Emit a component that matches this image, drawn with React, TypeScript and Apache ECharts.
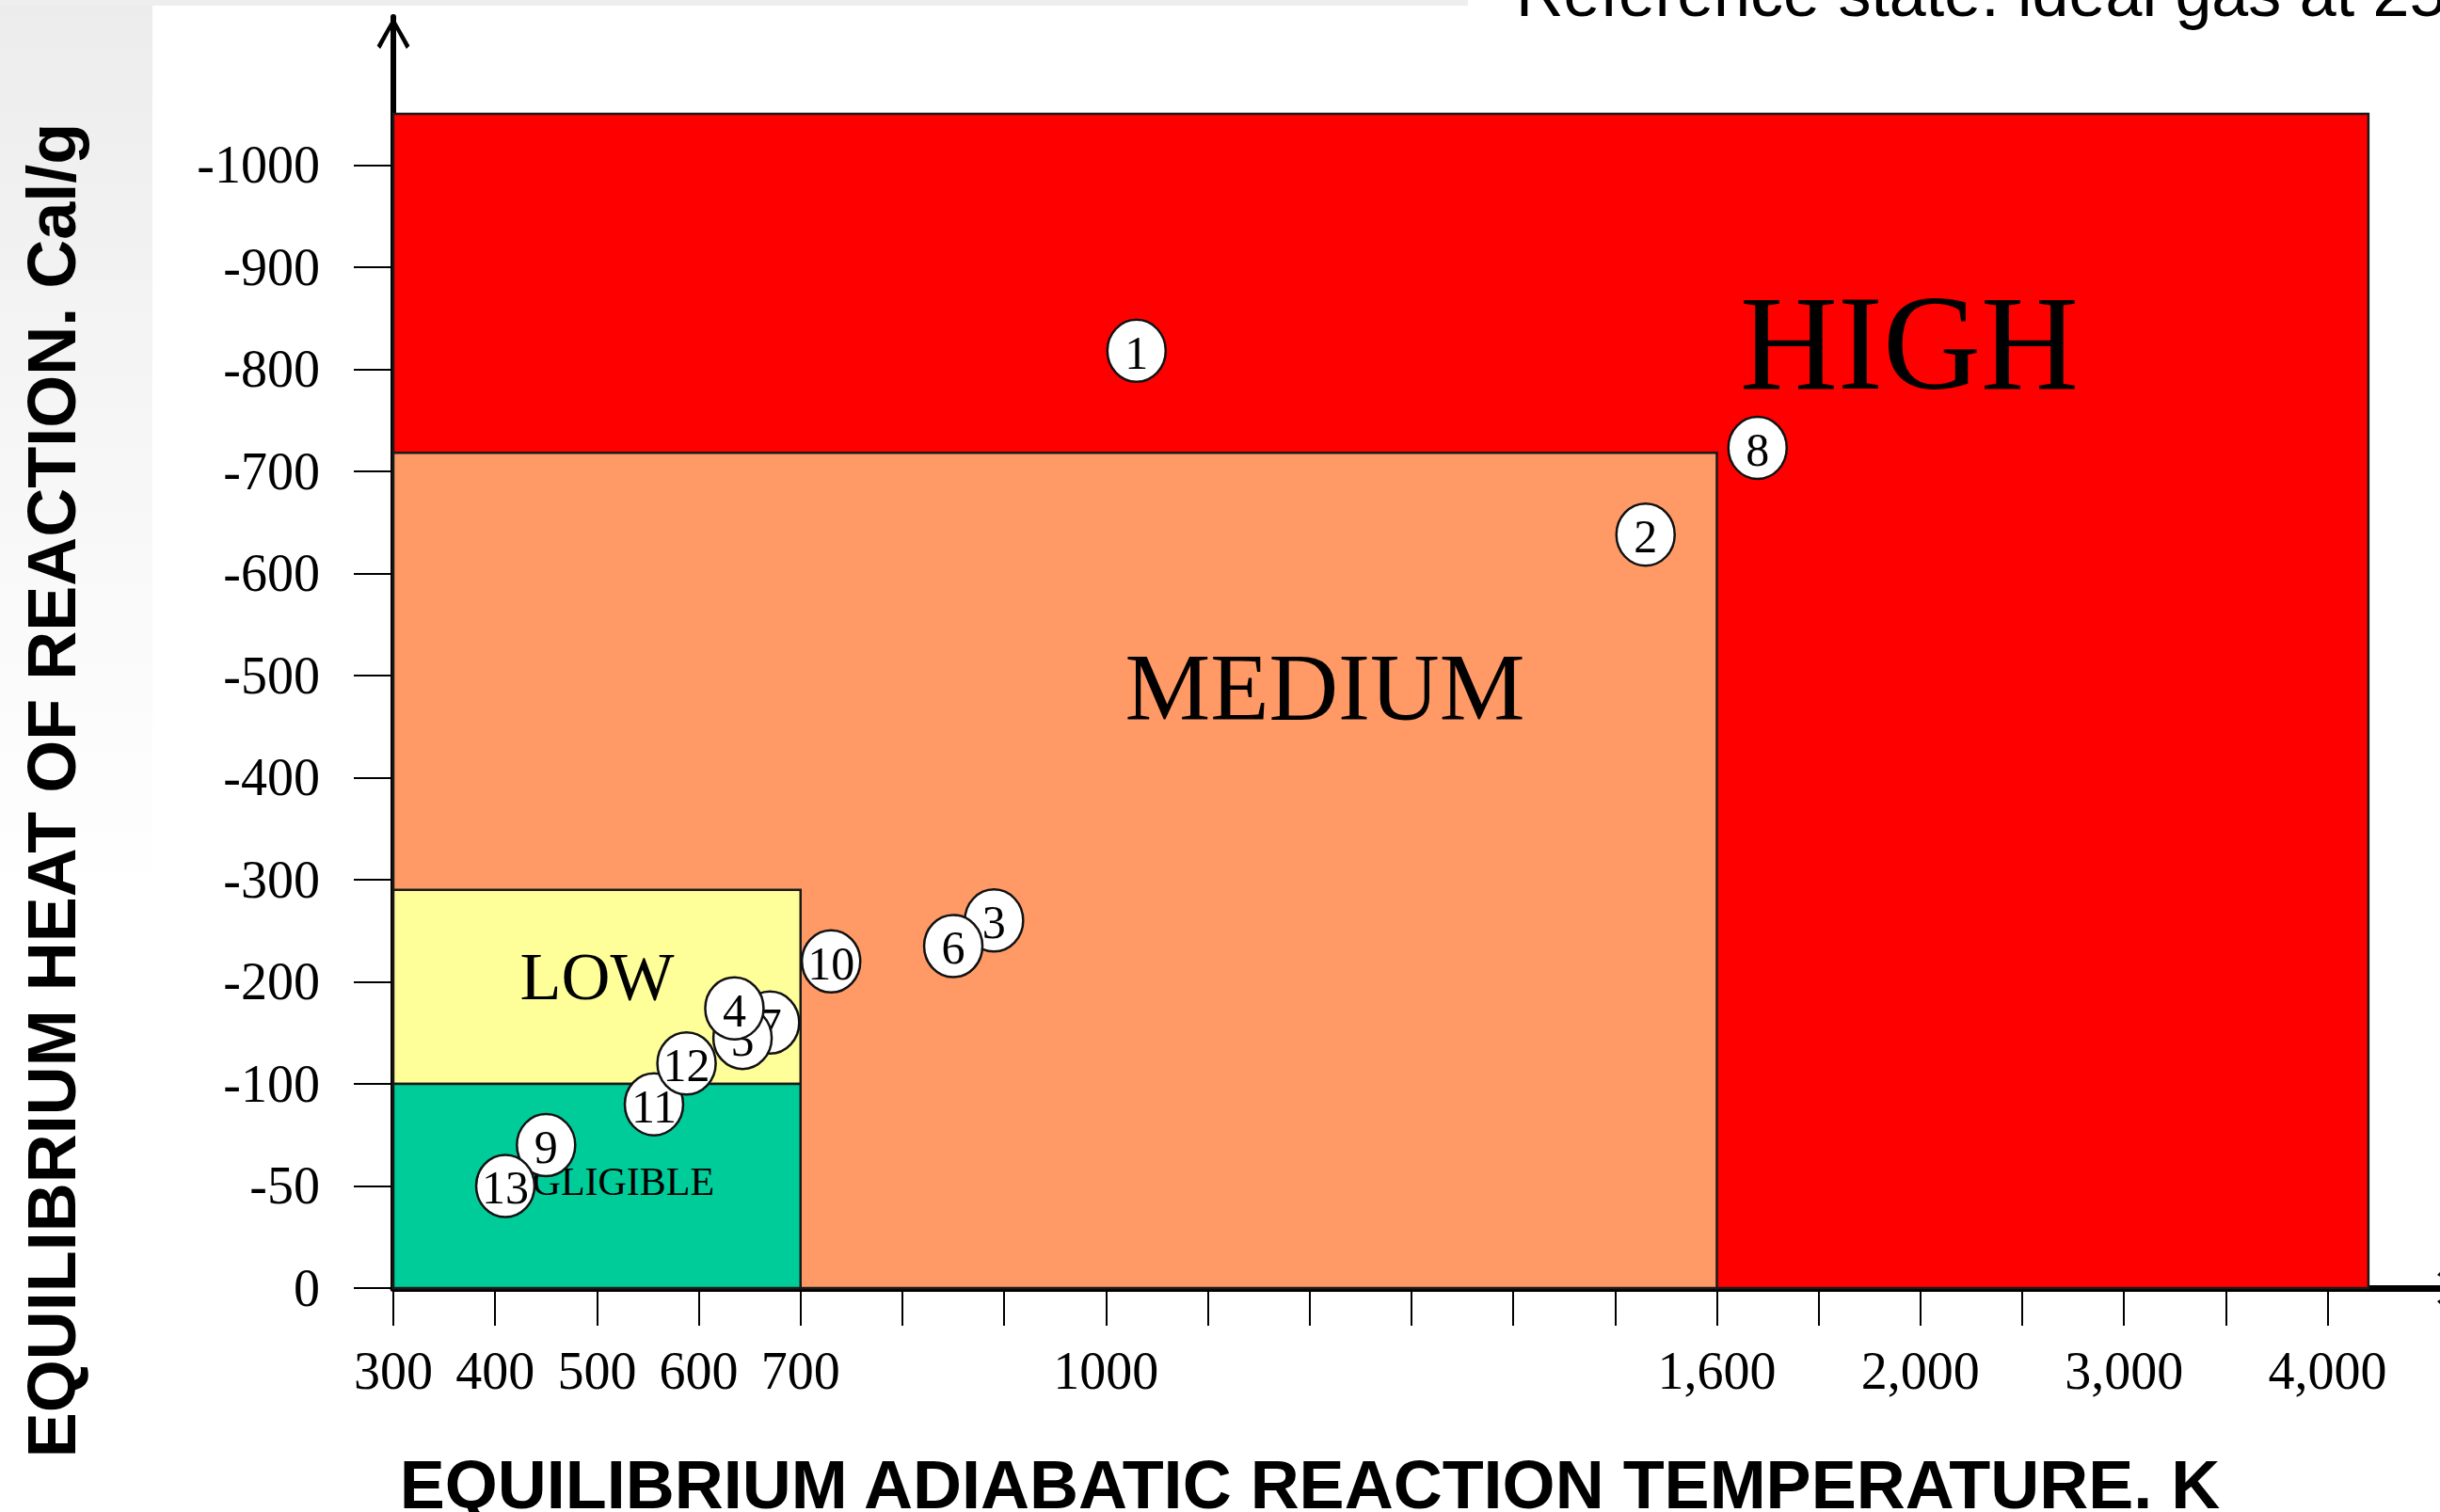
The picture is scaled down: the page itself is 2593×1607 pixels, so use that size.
import React, { useEffect, useRef } from 'react';
import * as echarts from 'echarts';

// Equally spaced tick stops along the temperature axis (K)
const tempTicks = [300, 400, 500, 600, 700, 800, 900, 1000, 1100, 1200, 1300, 1400, 1500, 1600, 1800, 2000, 2500, 3000, 3500, 4000];
// Stops that carry a printed label
const tempLabels = [300, 400, 500, 600, 700, 1000, 1600, 2000, 3000, 4000];
// Equally spaced tick stops along the heat axis (cal/g)
const heatTicks = [0, -50, -100, -200, -300, -400, -500, -600, -700, -800, -900, -1000];

// Hazard zones
const zoneNames = ['HIGH', 'MEDIUM', 'LOW', 'NEGLIGIBLE'];
const zoneTempMax = [4200, 1600, 700, 700];
const zoneHeatBottom = [0, 0, -100, 0];
const zoneHeatTop = [-1050, -718, -290, -100];
const zoneColors = ['#ff0000', '#ff9966', '#ffff99', '#00cc99'];
const zoneLabelTemp = [1978, 1215, 500, 500];
const zoneLabelHeat = [-826, -488, -205, -52];
const zoneFontSizes = [144, 102, 72, 42];

// Numbered reactions (drawn in this order, later ones on top)
const sampleIds = ['3', '6', '7', '5', '4', '11', '12', '9', '13', '10', '1', '2', '8'];
const sampleTemp = [890, 850, 670, 643, 635, 556, 588, 450, 410, 730, 1030, 1530, 1680];
const sampleHeat = [-260, -235, -160, -145, -174, -90, -120, -70, -50, -220, -818, -638, -723];

const SERIF = '"Liberation Serif", "Times New Roman", serif';
const SANS = '"Liberation Sans", Arial, sans-serif';
const ARROW = 'path://M50,0 L100,88 L90,98 L50,24 L10,98 L0,88 Z';

// Piecewise-linear position of a value between equally spaced tick stops
function toIndex(v: number, ticks: number[]): number {
  const n = ticks.length;
  for (let i = 0; i < n - 1; i++) {
    const a = ticks[i];
    const b = ticks[i + 1];
    if (v >= Math.min(a, b) && v <= Math.max(a, b)) return i + (v - a) / (b - a);
  }
  const up = ticks[1] > ticks[0];
  if (up ? v < ticks[0] : v > ticks[0]) return (v - ticks[0]) / (ticks[1] - ticks[0]);
  const a = ticks[n - 2];
  const b = ticks[n - 1];
  return n - 1 + (v - b) / (b - a);
}

function withCommas(t: number): string {
  return t >= 1600 ? String(t).replace(/\B(?=(\d{3})+(?!\d))/g, ',') : String(t);
}

export default function App() {
  const ref = useRef<HTMLDivElement>(null);

  useEffect(() => {
    if (!ref.current) return;
    const chart = echarts.init(ref.current, null, { renderer: 'svg' });

    const X_MAX = 20.39;
    const Y_MAX = 12.45;

    const zoneData = zoneNames.map((_, i) => [
      0,
      toIndex(zoneTempMax[i], tempTicks),
      toIndex(zoneHeatBottom[i], heatTicks),
      toIndex(zoneHeatTop[i], heatTicks),
    ]);
    const zoneLabelData = zoneNames.map((_, i) => [
      toIndex(zoneLabelTemp[i], tempTicks),
      toIndex(zoneLabelHeat[i], heatTicks),
    ]);
    const sampleData = sampleIds.map((_, i) => [
      toIndex(sampleTemp[i], tempTicks),
      toIndex(sampleHeat[i], heatTicks),
    ]);

    const option: any = {
      animation: false,
      backgroundColor: '#ffffff',
      grid: {
        left: 418,
        top: 18,
        width: 2206,
        height: 1351,
        containLabel: false,
        outerBoundsMode: 'none',
      },
      xAxis: {
        type: 'value',
        min: 0,
        max: X_MAX,
        interval: 1,
        axisLine: {
          show: true,
          onZero: false,
          symbol: ['none', ARROW],
          symbolSize: [36, 34],
          symbolOffset: [0, -17],
          lineStyle: { color: '#000', width: 7 },
        },
        axisTick: {
          show: true,
          customValues: tempTicks.map((_, i) => i),
          length: 40,
          lineStyle: { color: '#000', width: 2 },
        },
        axisLabel: {
          show: true,
          customValues: tempLabels.map((v) => toIndex(v, tempTicks)),
          formatter: (v: number) => withCommas(tempTicks[Math.round(v)]),
          margin: 60,
          fontFamily: SERIF,
          fontSize: 56,
          color: '#000',
        },
        splitLine: { show: false },
      },
      yAxis: {
        type: 'value',
        min: 0,
        max: Y_MAX,
        interval: 1,
        axisLine: {
          show: true,
          onZero: false,
          symbol: ['none', ARROW],
          symbolSize: [38, 34],
          symbolOffset: [0, -17],
          lineStyle: { color: '#000', width: 6 },
        },
        axisTick: {
          show: true,
          customValues: heatTicks.map((_, i) => i),
          length: 42,
          lineStyle: { color: '#000', width: 2 },
        },
        axisLabel: {
          show: true,
          customValues: heatTicks.map((_, i) => i),
          formatter: (v: number) => String(heatTicks[Math.round(v)]),
          margin: 78,
          fontFamily: SERIF,
          fontSize: 56,
          color: '#000',
        },
        splitLine: { show: false },
      },
      graphic: {
        elements: [
          {
            type: 'rect',
            z: -10,
            silent: true,
            shape: { x: 0, y: 0, width: 162, height: 1607 },
            style: {
              fill: new echarts.graphic.LinearGradient(0, 0, 0, 1, [
                { offset: 0, color: '#ececec' },
                { offset: 0.35, color: '#f8f8f8' },
                { offset: 0.6, color: '#ffffff' },
              ]),
            },
          },
          {
            type: 'rect',
            z: -10,
            silent: true,
            shape: { x: 0, y: 0, width: 1560, height: 6 },
            style: { fill: '#eeeeee' },
          },
          {
            type: 'text',
            z: 10,
            x: 55,
            y: 840,
            rotation: Math.PI / 2,
            style: {
              text: 'EQUILIBRIUM HEAT OF REACTION. Cal/g',
              font: `bold 72px ${SANS}`,
              fill: '#000',
              textAlign: 'center',
              textVerticalAlign: 'middle',
            },
          },
          {
            type: 'text',
            z: 10,
            x: 1392,
            y: 1578,
            style: {
              text: 'EQUILIBRIUM ADIABATIC REACTION TEMPERATURE. K',
              font: `bold 72px ${SANS}`,
              fill: '#000',
              textAlign: 'center',
              textVerticalAlign: 'middle',
            },
          },
          {
            type: 'text',
            z: 10,
            x: 1611,
            y: -7,
            style: {
              text: 'Reference state: ideal gas at 25°C',
              font: `70px ${SANS}`,
              fill: '#000',
              textAlign: 'left',
              textVerticalAlign: 'middle',
            },
          },
        ],
      },
      series: [
        {
          type: 'custom',
          name: 'zones',
          z: 1,
          clip: false,
          encode: { x: [0, 1], y: [2, 3] },
          data: zoneData,
          renderItem: (params: any, api: any) => {
            const p0 = api.coord([api.value(0), api.value(2)]);
            const p1 = api.coord([api.value(1), api.value(3)]);
            return {
              type: 'rect',
              shape: {
                x: Math.min(p0[0], p1[0]),
                y: Math.min(p0[1], p1[1]),
                width: Math.abs(p1[0] - p0[0]),
                height: Math.abs(p1[1] - p0[1]),
              },
              style: { fill: zoneColors[params.dataIndex], stroke: '#1a1a1a', lineWidth: 2.5 },
            };
          },
        },
        {
          type: 'custom',
          name: 'zone labels',
          z: 2,
          clip: false,
          encode: { x: 0, y: 1 },
          data: zoneLabelData,
          renderItem: (params: any, api: any) => {
            const p = api.coord([api.value(0), api.value(1)]);
            return {
              type: 'text',
              x: p[0],
              y: p[1],
              style: {
                text: zoneNames[params.dataIndex],
                fontFamily: SERIF,
                fontSize: zoneFontSizes[params.dataIndex],
                fill: '#000',
                align: 'center',
                verticalAlign: 'middle',
                textAlign: 'center',
                textVerticalAlign: 'middle',
              },
            };
          },
        },
        {
          type: 'custom',
          name: 'reactions',
          z: 3,
          clip: false,
          encode: { x: 0, y: 1 },
          data: sampleData,
          renderItem: (params: any, api: any) => {
            const p = api.coord([api.value(0), api.value(1)]);
            const k = params.dataIndex;
            return {
              type: 'group',
              children: [
                {
                  type: 'ellipse',
                  z2: k * 2,
                  shape: { cx: p[0], cy: p[1], rx: 31, ry: 33 },
                  style: { fill: '#ffffff', stroke: '#111', lineWidth: 2.5 },
                },
                {
                  type: 'text',
                  z2: k * 2 + 1,
                  x: p[0],
                  y: p[1] + 2,
                  style: {
                    text: sampleIds[k],
                    fontFamily: SERIF,
                    fontSize: 50,
                    fill: '#000',
                    align: 'center',
                    verticalAlign: 'middle',
                    textAlign: 'center',
                    textVerticalAlign: 'middle',
                  },
                },
              ],
            };
          },
        },
      ],
    };

    chart.setOption(option);
    return () => chart.dispose();
  }, []);

  return (
    <div
      ref={ref}
      style={{ position: 'absolute', left: 0, top: 0, width: 2593, height: 1607 }}
    />
  );
}
